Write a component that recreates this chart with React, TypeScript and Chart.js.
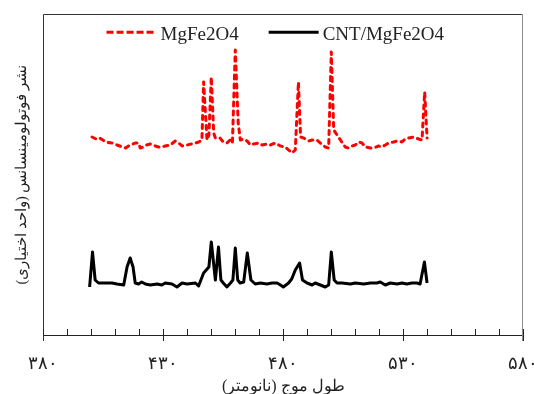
import React, { useEffect, useRef } from 'react';
import { Chart, registerables } from 'chart.js';

Chart.register(...registerables);

// ---- data (wavelength in nm, intensity in arbitrary units) ----
const redWavelengths = [
  400.3, 402, 403.5, 406, 408.6, 410.7, 414.3, 415.5, 418.3, 419.7, 420.4, 421.8, 423, 424.6,
  426.7, 428, 429.4, 430.8, 432.9, 435, 436.4, 437.8, 439.9, 443.4, 444.8, 446.1, 446.8, 448.2,
  449, 450, 451, 451.7, 453.6, 455, 456.5, 457.9, 458.8, 460, 461.2, 462.1, 463.5, 464.9, 466.3,
  467.6, 469.7, 471.1, 473.2, 474.6, 476.7, 478.8, 480.8, 482.2, 483.6, 485, 486.3, 487.2,
  488.5, 490.6, 492, 494, 495.4, 497.5, 498.9, 500, 501, 502.4, 503.8, 505.8, 507.2, 508.6,
  510, 511.4, 512.8, 514.2, 516.3, 517.6, 519.7, 521, 522.5, 523.9, 526, 527.4, 529.4, 530.8,
  532.2, 534.3, 536.4, 537.8, 538.9, 539.9,
];
const redValues = [
  198, 196, 197, 193, 192, 190, 187, 189, 192, 192, 187, 188, 190, 191,
  189, 188, 188, 189, 190, 194, 192, 189, 190, 192, 193, 195, 253, 195,
  200, 258, 202, 197, 197, 193, 192, 195, 192, 285, 212, 195, 196, 194, 190,
  191, 192, 190, 191, 190, 192, 189, 188, 185, 182, 185, 253, 198,
  197, 194, 195, 195, 192, 188, 187, 283, 205, 200, 195, 188, 187, 189,
  190, 193, 192, 188, 187, 187, 189, 188, 190, 192, 193, 194, 193, 196,
  197, 198, 196, 195, 243, 197,
];

const blackWavelengths = [
  399.3, 400.5, 401.6, 403, 405, 407, 408.6, 410.7, 413.5, 414.9, 416.2, 417.4, 418.3, 419.7,
  421, 422.5, 424.6, 427.4, 429.4, 430.8, 433.6, 435.7, 437.8, 439.9, 443.4, 444.7, 446.8, 449,
  450, 451.7, 453, 454, 455, 456.5, 458, 459, 460, 461, 462, 463.5, 465, 466.5, 468.3, 470.4,
  473.2, 475.3, 477.4, 478.8, 480, 482.2, 483.5, 485, 486.8, 488, 489.9, 492, 493.3, 495.4,
  497.5, 498.9, 500, 501.2, 502.4, 504.4, 508, 510, 513.5, 516.3, 519, 520.4, 522.5, 524.6,
  527.4, 529.4, 531.5, 533.6, 535.7, 537, 538.8, 539.9,
];
const blackValues = [
  48, 83, 55, 52, 52, 52, 52, 51, 50, 68, 77, 68, 52, 51,
  53, 51, 50, 51, 50, 52, 51, 48, 52, 51, 52, 49, 62, 68,
  93, 55, 88, 55, 52, 48, 52, 55, 87, 55, 52, 53, 82, 55, 51, 52,
  51, 52, 52, 50, 48, 52, 56, 65, 72, 55, 52, 50, 52, 50,
  48, 50, 83, 55, 52, 52, 51, 52, 51, 52, 52, 53, 50, 52,
  51, 52, 51, 52, 52, 51, 73, 52,
];

const seriesNames = ['MgFe2O4', 'CNT/MgFe2O4'];
const seriesColors = ['#ff0000', '#000000'];
const xTickValues = [380, 430, 480, 530, 580];
const xTickLabels = ['۳۸۰', '۴۳۰', '۴۸۰', '۵۳۰', '۵۸۰'];
const xTitle = 'طول موج (نانومتر)';
const yTitle = 'نشر فوتولومینسانس (واحد اختیاری)';

const FONT = "'Times New Roman', 'Liberation Serif', 'DejaVu Serif', serif";
const TEXT = '#222222';

const framePlugin = {
  id: 'frameAndTicks',
  afterDraw(chart: any) {
    const { ctx, chartArea: a } = chart;
    const x = chart.scales.x;
    ctx.save();
    ctx.lineWidth = 1;
    const L = Math.round(a.left) + 0.5;
    const T = Math.round(a.top) + 0.5;
    const R = Math.round(a.right) - 0.5;
    const B = Math.round(a.bottom);
    ctx.strokeStyle = '#333';
    ctx.beginPath();
    ctx.moveTo(L, B + 6);
    ctx.lineTo(L, T);
    ctx.lineTo(R, T);
    ctx.stroke();
    ctx.strokeStyle = '#8c8c8c';
    ctx.beginPath();
    ctx.moveTo(R, T);
    ctx.lineTo(R, B + 6);
    ctx.stroke();
    ctx.strokeStyle = '#222';
    ctx.beginPath();
    for (let v = x.min; v <= x.max + 0.001; v += 10) {
      const px = Math.round(x.getPixelForValue(v)) + 0.5;
      ctx.moveTo(px, B);
      ctx.lineTo(px, B - 6);
    }
    ctx.stroke();

    // legend
    ctx.font = `19px ${FONT}`;
    ctx.textBaseline = 'alphabetic';
    ctx.textAlign = 'left';
    const sample = 50;
    const gap = 4;
    const itemGap = 30;
    const widths = seriesNames.map((n) => ctx.measureText(n).width);
    const total = widths.reduce((s, w) => s + sample + gap + w, 0) + itemGap * (seriesNames.length - 1);
    let cx = (a.left + a.right) / 2 - 8 - total / 2;
    const baseY = a.top + 26;
    const lineY = a.top + 18;
    seriesNames.forEach((name, i) => {
      ctx.save();
      ctx.strokeStyle = seriesColors[i];
      ctx.lineWidth = 3;
      ctx.setLineDash(i === 0 ? [7, 3] : []);
      ctx.beginPath();
      ctx.moveTo(cx, lineY);
      ctx.lineTo(cx + sample, lineY);
      ctx.stroke();
      ctx.restore();
      ctx.fillStyle = TEXT;
      ctx.fillText(name, cx + sample + gap, baseY);
      cx += sample + gap + widths[i] + itemGap;
    });
    ctx.restore();
  },
};

export default function App() {
  const ref = useRef<HTMLCanvasElement | null>(null);
  useEffect(() => {
    if (!ref.current) return;
    const chart = new Chart(ref.current, {
      type: 'line',
      data: {
        datasets: [
          {
            label: seriesNames[0],
            data: redWavelengths.map((w, i) => ({ x: w, y: redValues[i] })),
            borderColor: seriesColors[0],
            borderWidth: 3,
            borderDash: [4, 5],
            borderCapStyle: 'round',
            pointRadius: 0,
            tension: 0,
            borderJoinStyle: 'round',
            fill: false,
          },
          {
            label: seriesNames[1],
            data: blackWavelengths.map((w, i) => ({ x: w, y: blackValues[i] })),
            borderColor: seriesColors[1],
            borderWidth: 3,
            pointRadius: 0,
            tension: 0,
            borderJoinStyle: 'round',
            fill: false,
          },
        ],
      },
      options: {
        responsive: false,
        animation: false,
        maintainAspectRatio: false,
        layout: { padding: { top: 14.3, right: 10.7, left: 0, bottom: 0 } },
        plugins: { legend: { display: false }, tooltip: { enabled: false } },
        scales: {
          x: {
            type: 'linear',
            min: 380,
            max: 580,
            afterBuildTicks: (s: any) => {
              s.ticks = xTickValues.map((v) => ({ value: v }));
            },
            afterFit: (s: any) => {
              s.height = 59;
              s.paddingLeft = 0;
              s.paddingRight = 0;
            },
            ticks: {
              autoSkip: false,
              maxRotation: 0,
              padding: 12,
              color: TEXT,
              font: { family: FONT, size: 18 },
              callback: (v: any) => {
                const i = xTickValues.indexOf(Number(v));
                return i >= 0 ? xTickLabels[i] : '';
              },
            },
            grid: { display: true, drawOnChartArea: false, drawTicks: true, tickLength: 6, color: '#222' },
            border: { display: true, color: '#222', width: 1 },
            title: {
              display: true,
              text: xTitle,
              color: TEXT,
              font: { family: FONT, size: 16, lineHeight: 1 },
              padding: { top: 0, bottom: -1 },
            },
          },
          y: {
            type: 'linear',
            min: 0,
            max: 320.7,
            afterFit: (s: any) => {
              s.width = 43.3;
            },
            ticks: { display: false },
            grid: { display: false },
            border: { display: false },
            title: {
              display: true,
              text: yTitle,
              color: TEXT,
              font: { family: FONT, size: 14.5, lineHeight: 1.2 },
              padding: { top: 13, bottom: 0 },
            },
          },
        },
      },
      plugins: [framePlugin],
    });
    return () => chart.destroy();
  }, []);
  return (
    <div style={{ position: 'fixed', left: 0, top: 0, width: 534, height: 394 }}>
      <canvas ref={ref} width={534} height={394} style={{ width: 534, height: 394, display: 'block' }} />
    </div>
  );
}
